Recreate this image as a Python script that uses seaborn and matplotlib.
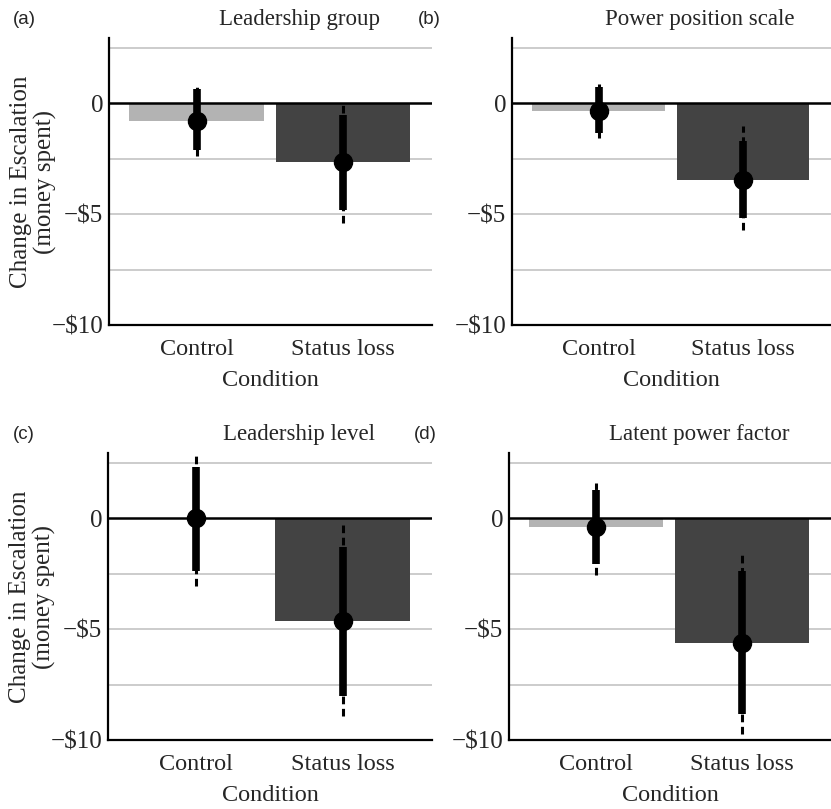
import numpy as np
import pandas as pd
import matplotlib
matplotlib.use("Agg")
import matplotlib.pyplot as plt
import seaborn as sns

conditions = ["Control", "Status loss"]
titles = ["Leadership group", "Power position scale", "Leadership level", "Latent power factor"]
letters = ["(a)", "(b)", "(c)", "(d)"]

# point estimates (bar height == dot)
means = [[-0.80, -2.65], [-0.35, -3.45], [0.0, -4.62], [-0.40, -5.60]]
# thick interval
inner_lo = [[-2.10, -4.80], [-1.34, -5.15], [-2.35, -8.00], [-2.05, -8.80]]
inner_hi = [[0.63, -0.54], [0.74, -1.70], [2.30, -1.27], [1.30, -2.35]]
# thin dashed interval
outer_lo = [[-2.35, -5.37], [-1.57, -5.70], [-3.05, -8.90], [-2.55, -9.70]]
outer_hi = [[0.85, 0.10], [0.87, -1.00], [2.90, -0.30], [1.60, -1.50]]

yticks = [0, -5, -10]
yticklabels = ["0", "\u2212$5", "\u2212$10"]
grid_levels = [2.5, -2.5, -5, -7.5]

sns.set_theme(style="white")
plt.rcParams["font.family"] = ["Liberation Serif", "DejaVu Serif"]

fig = plt.figure(figsize=(8.31, 8.09), dpi=100)
positions = [
    [0.131, 0.598, 0.389, 0.355],
    [0.616, 0.598, 0.384, 0.355],
    [0.130, 0.085, 0.390, 0.355],
    [0.6125, 0.085, 0.3875, 0.355],
]
bar_colors = ["#b3b3b3", "#434343"]

for i, pos in enumerate(positions):
    ax = fig.add_axes(pos)
    df = pd.DataFrame({"Condition": conditions, "Change": means[i]})
    for g in grid_levels:
        ax.axhline(g, color="#c8c8c8", lw=1.3, zorder=0)
    sns.barplot(data=df, x="Condition", y="Change", hue="Condition",
                palette=bar_colors, width=0.92, errorbar=None,
                legend=False, ax=ax, zorder=1, linewidth=0)
    ax.axhline(0, color="black", lw=1.8, zorder=2)
    xs = np.arange(len(conditions))
    ax.vlines(xs, outer_lo[i], outer_hi[i], color="black", lw=2.2,
              linestyles=(0, (2.5, 1.5)), zorder=3)
    ax.vlines(xs, inner_lo[i], inner_hi[i], color="black", lw=5.5, zorder=4)
    ax.plot(xs, means[i], "o", color="black", ms=13, zorder=5)

    ax.set_xlim(-0.60, 1.61)
    ax.set_ylim(-10, 2.95)
    ax.set_yticks(yticks)
    ax.set_yticklabels(yticklabels, fontsize=18)
    ax.tick_params(axis="x", labelsize=17.5, pad=10, length=0)
    ax.tick_params(axis="y", pad=4, length=0)
    ax.set_xlabel("Condition", fontsize=17.5, labelpad=7)
    if i % 2 == 0:
        ax.set_ylabel("Change in Escalation\n(money spent)", fontsize=18,
                      linespacing=1.1)
        ax.yaxis.set_label_coords(-0.16, 0.5)
    else:
        ax.set_ylabel("")
    sns.despine(ax=ax, top=True, right=True)
    for side in ["left", "bottom"]:
        ax.spines[side].set_color("black")
        ax.spines[side].set_linewidth(1.6)
    ax.text(0.59, 1.065, titles[i], transform=ax.transAxes, ha="center",
            va="center", fontsize=16.5)
    ax.text(-0.26, 1.065, letters[i], transform=ax.transAxes, ha="center",
            va="center", fontsize=13.5, family=["Liberation Sans", "DejaVu Sans"])

fig.savefig("out.png", dpi=100)
